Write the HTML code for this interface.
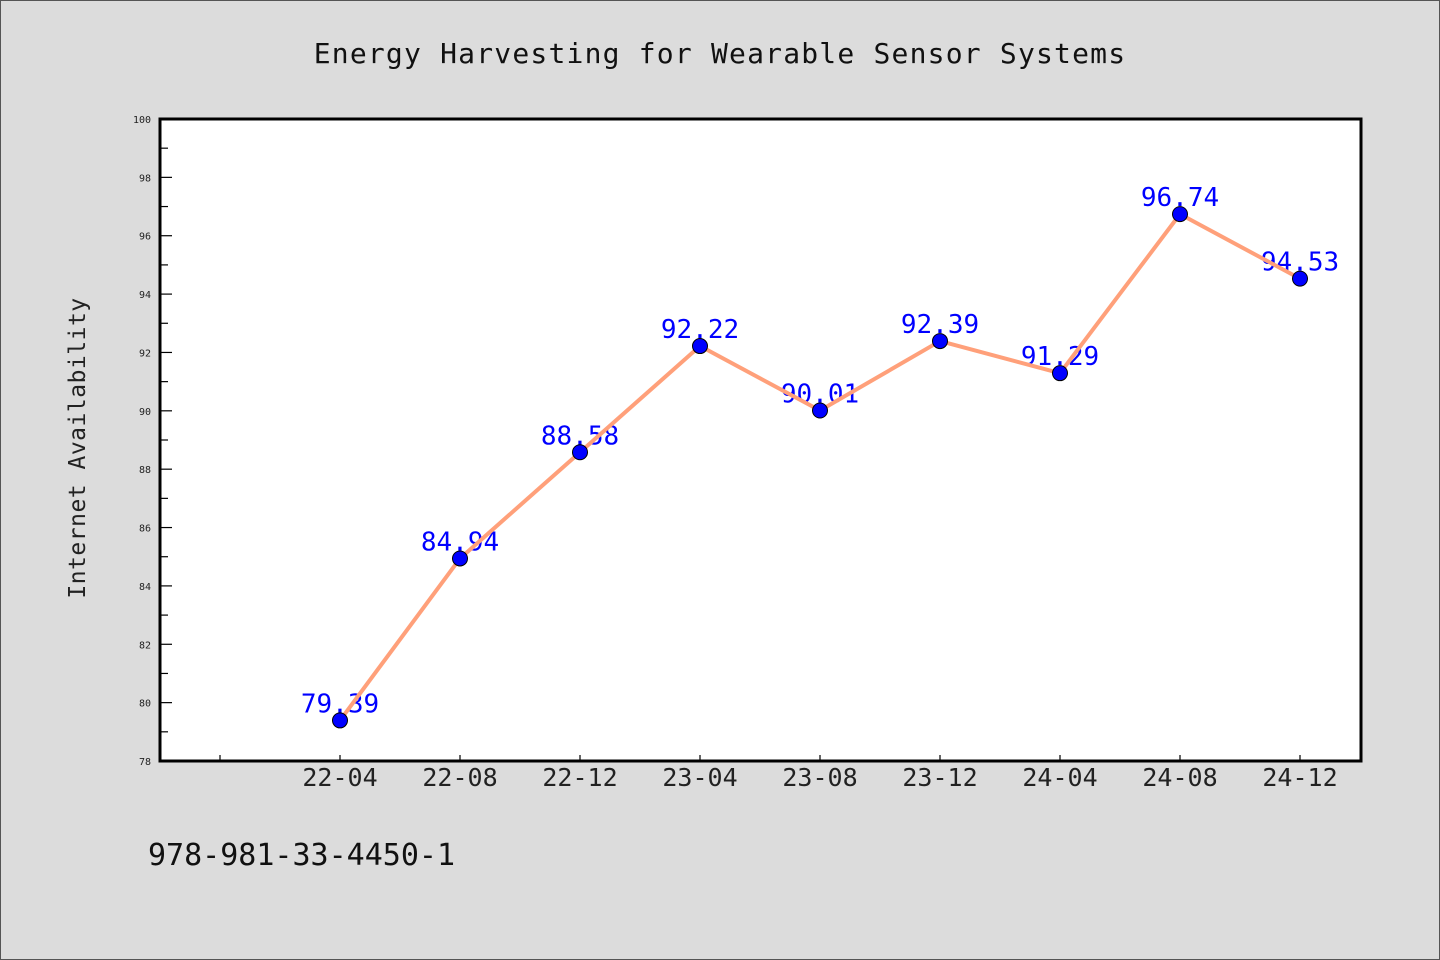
<!DOCTYPE html>
<html><head><meta charset="utf-8"><style>
html,body{margin:0;padding:0;background:#dcdcdc;}
svg{display:block;}
text{font-family:"DejaVu Sans Mono","Liberation Mono",monospace;}
</style></head><body>
<svg id="chart" width="1440" height="960" viewBox="0 0 1440 960">
<rect x="0.5" y="0.5" width="1439" height="959" fill="#dcdcdc" stroke="#555"/>
<text x="720" y="63" text-anchor="middle" font-size="28" fill="#111" letter-spacing="1.2">Energy Harvesting for Wearable Sensor Systems</text>
<text transform="translate(85,448) rotate(-90)" text-anchor="middle" font-size="23" fill="#222" letter-spacing="0.5">Internet Availability</text>
<text x="148" y="865" font-size="30" fill="#111">978-981-33-4450-1</text>
<rect x="160" y="119" width="1201" height="642" fill="#fff" stroke="#000" stroke-width="3"/>
<g id="g"></g>
</svg>
<script>
const categories=["22-04","22-08","22-12","23-04","23-08","23-12","24-04","24-08","24-12"];
const values=[79.39,84.94,88.58,92.22,90.01,92.39,91.29,96.74,94.53];
const labels=["79.39","84.94","88.58","92.22","90.01","92.39","91.29","96.74","94.53"];
const yTicks=[78,80,82,84,86,88,90,92,94,96,98,100];
const NS="http://www.w3.org/2000/svg";
const g=document.getElementById('g');
const yMin=78,yMax=100,plotTop=119,plotBot=761,plotLeft=160;
const y=v=>plotBot-(v-yMin)/(yMax-yMin)*(plotBot-plotTop);
const x=i=>340+i*120;
function mk(t,a){const e=document.createElementNS(NS,t);for(const k in a)e.setAttribute(k,a[k]);g.appendChild(e);return e;}
yTicks.forEach(v=>{
 const t=mk('line',{x1:plotLeft,x2:plotLeft+12,y1:y(v),y2:y(v),stroke:'#000','stroke-width':1.2});
 
 
 if(v<yMax){const m=mk('line',{x1:plotLeft,x2:plotLeft+8,y1:y(v+1),y2:y(v+1),stroke:'#000','stroke-width':1.2});
 
 }
 const l=mk('text',{x:151,y:y(v)+4,'text-anchor':'end','font-size':10,fill:'#222'});
 l.textContent=v;
 
 
});
for(let i=-1;i<categories.length;i++){
 const t=mk('line',{x1:x(i),x2:x(i),y1:plotBot,y2:plotBot-6,stroke:'#000','stroke-width':1.2});
 
 
 if(i>=0){const l=mk('text',{x:x(i),y:plotBot+25,'text-anchor':'middle','font-size':25,fill:'#222'});
 l.textContent=categories[i];
 
 }
}
values.forEach((v,i)=>{
 const l=mk('text',{x:x(i),y:y(v)-8,'text-anchor':'middle','font-size':26,fill:'#0000ff'});
 l.textContent=labels[i];
 
 
});
const p=mk('polyline',{points:values.map((v,i)=>x(i)+','+y(v)).join(' '),fill:'none',stroke:'#ffa07a','stroke-width':4,'stroke-linejoin':'round'});


values.forEach((v,i)=>{
 const c=mk('circle',{cx:x(i),cy:y(v),r:7.5,fill:'#0000ff',stroke:'#000','stroke-width':1});
 
 
});
</script>
</body></html>
